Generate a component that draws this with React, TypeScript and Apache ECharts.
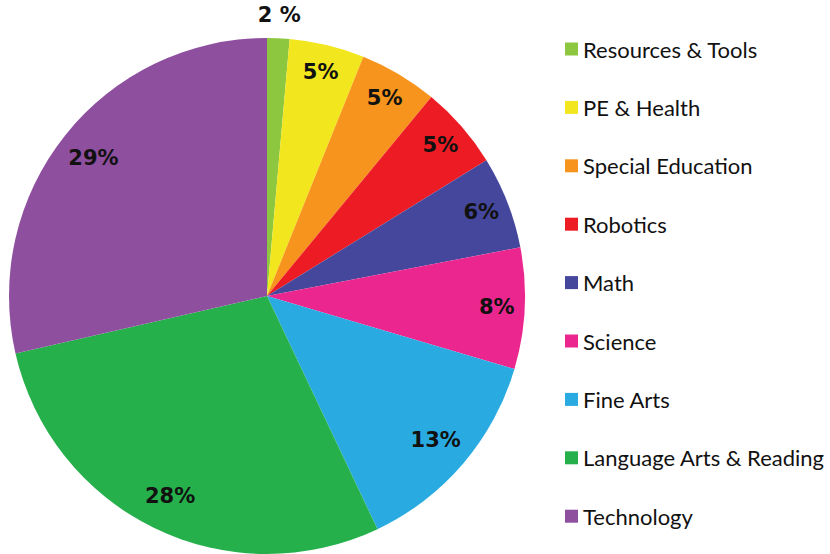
import React, { useEffect, useRef } from "react";
import * as echarts from "echarts";

const categories = [
  "Resources & Tools",
  "PE & Health",
  "Special Education",
  "Robotics",
  "Math",
  "Science",
  "Fine Arts",
  "Language Arts & Reading",
  "Technology",
];
const shares = [1.4, 4.7, 4.9, 5.2, 5.8, 7.6, 13.4, 28.5, 28.6];
const percentLabels = ["2 %", "5%", "5%", "5%", "6%", "8%", "13%", "28%", "29%"];
const colors = [
  "#8DC63F",
  "#F2E61E",
  "#F7941D",
  "#ED1C24",
  "#44479C",
  "#EC268F",
  "#29ABE2",
  "#25B04B",
  "#8E4F9F",
];

const CENTER: [number, number] = [267, 296];
const labelFont = { fontFamily: "DejaVu Sans", fontWeight: "bold" as const, fontSize: 21, color: "#111" };

function labelPie(radius: [number, number], shown: number[]) {
  return {
    type: "pie",
    center: CENTER,
    radius,
    startAngle: 90,
    clockwise: true,
    silent: true,
    legendHoverLink: false,
    avoidLabelOverlap: false,
    itemStyle: { color: "rgba(0,0,0,0)" },
    emphasis: { disabled: true },
    label: {
      show: true,
      position: "inside",
      formatter: (p: any) => percentLabels[p.dataIndex],
      ...labelFont,
    },
    labelLine: { show: false },
    data: categories.map((name, i) =>
      shown.includes(i)
        ? { name, value: shares[i] }
        : { name, value: shares[i], label: { show: false } }
    ),
  };
}

export default function App() {
  const ref = useRef<HTMLDivElement>(null);
  useEffect(() => {
    if (!ref.current) return;
    const chart = echarts.init(ref.current, undefined, { renderer: "svg" });
    chart.setOption({
      animation: false,
      backgroundColor: "#ffffff",
      legend: {
        orient: "vertical",
        left: 565,
        top: 38,
        padding: 0,
        itemWidth: 13,
        itemHeight: 13,
        itemGap: 36.4,
        icon: "rect",
        selectedMode: false,
        textStyle: { fontFamily: "Lato", fontSize: 22, lineHeight: 22, color: "#111" },
        data: categories.map((name, i) => ({ name, itemStyle: { color: colors[i] } })),
      },
      series: [
        {
          type: "pie",
          center: CENTER,
          radius: [0, 258],
          startAngle: 90,
          clockwise: true,
          silent: true,
          label: { show: false },
          labelLine: { show: false },
          emphasis: { disabled: true },
          data: categories.map((name, i) => ({
            name,
            value: shares[i],
            itemStyle: { color: colors[i] },
          })),
        },
        labelPie([200, 254], [1, 2, 3, 4, 5]),
        labelPie([194, 244], [6, 7, 8]),
        labelPie([265, 291], [0]),
      ],
    });
    return () => chart.dispose();
  }, []);
  return (
    <div
      ref={ref}
      style={{ position: "fixed", left: 0, top: 0, width: 830, height: 554, background: "#fff" }}
    />
  );
}
